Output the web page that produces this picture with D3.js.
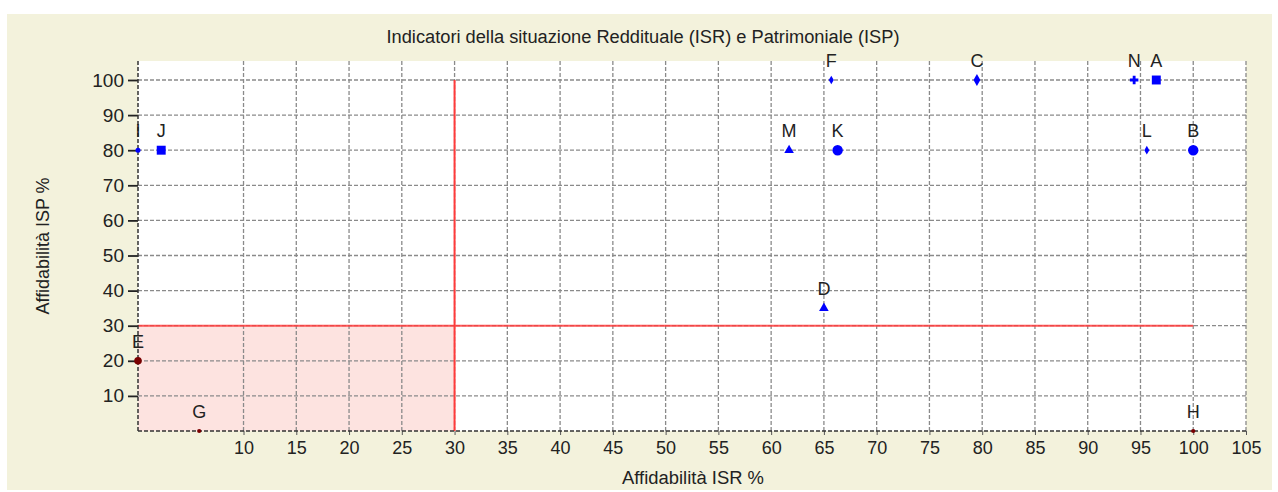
<!DOCTYPE html>
<html>
<head>
<meta charset="utf-8">
<script src="https://cdn.jsdelivr.net/npm/d3@7"></script>
<style>
  body { margin: 0; background: #fff; }
  svg text { font-family: "Liberation Sans", Arial, sans-serif; fill: #222; }
</style>
</head>
<body>
<div id="chart"></div>
<script>
// points
var names  = ["A", "B", "C", "D", "E", "F", "G", "H", "I", "J", "K", "L", "M", "N"];
var isr    = [96.5, 100, 79.5, 65, 0, 65.7, 5.8, 100, 0, 2.2, 66.3, 95.6, 61.7, 94.4];
var isp    = [100, 80, 100, 35, 20, 100, 0, 0, 80, 80, 80, 80, 80, 100];
var shapes = ["square", "circle", "diamond", "triangle", "circle", "diamond", "circle",
              "circle", "circle", "square", "circle", "diamond", "triangle", "cross"];
var tints  = ["blue", "blue", "blue", "blue", "dark", "blue", "dark",
              "dark", "blue", "blue", "blue", "blue", "blue", "blue"];

var xTicks = [10, 15, 20, 25, 30, 35, 40, 45, 50, 55, 60, 65, 70, 75, 80, 85, 90, 95, 100, 105];
var yTicks = [10, 20, 30, 40, 50, 60, 70, 80, 90, 100];
var threshold = 30;   // soglia ISR / ISP
var lineEnd = 100;

var W = 1278, H = 492;
var plotLeft = 138, plotRight = 1246, plotTop = 61, plotBottom = 431;

var svg = d3.select("#chart").append("svg")
    .attr("width", W)
    .attr("height", H);

// beige chart area
svg.append("rect")
    .attr("x", 7).attr("y", 14)
    .attr("width", 1265).attr("height", 476)
    .attr("fill", "#f3f2dc");

let x = d3.scaleLinear().domain([0, 105]).range([plotLeft, plotRight]);
let y = d3.scaleLinear().domain([0, 100]).range([plotBottom, 80]);

svg.append("rect")
    .attr("x", plotLeft).attr("y", plotTop)
    .attr("width", plotRight - plotLeft).attr("height", plotBottom - plotTop)
    .attr("fill", "#fff");

// pink zone
svg.append("rect")
    .attr("x", x(0)).attr("y", y(threshold))
    .attr("width", x(threshold) - x(0))
    .attr("height", y(0) - y(threshold))
    .attr("fill", "#fde3e0");

// grid
var grid = svg.append("g")
    .attr("stroke", "#8a8a8a")
    .attr("stroke-width", 1.3)
    .attr("stroke-dasharray", "4,2");
grid.selectAll(".vg")
    .data(xTicks)
    .join("line")
    .attr("class", "vg")
    .attr("x1", d => x(d)).attr("x2", d => x(d))
    .attr("y1", plotTop).attr("y2", plotBottom);
grid.selectAll(".hg")
    .data(yTicks)
    .join("line")
    .attr("class", "hg")
    .attr("x1", plotLeft).attr("x2", plotRight)
    .attr("y1", d => y(d)).attr("y2", d => y(d));

// red threshold lines
svg.append("line")
    .attr("x1", x(threshold)).attr("x2", x(threshold))
    .attr("y1", y(0)).attr("y2", y(lineEnd))
    .attr("stroke", "#ff3b3b").attr("stroke-width", 2);
svg.append("line")
    .attr("x1", x(0)).attr("x2", x(lineEnd))
    .attr("y1", y(threshold)).attr("y2", y(threshold))
    .attr("stroke", "#ff3b3b").attr("stroke-width", 2).attr("stroke-opacity", 0.85);

// axes
var yAxis = svg.append("g")
    .attr("transform", "translate(" + plotLeft + ",0)")
    .call(d3.axisLeft(y).tickValues(yTicks).tickSize(10).tickPadding(4));
var xAxis = svg.append("g")
    .attr("transform", "translate(0," + plotBottom + ")")
    .call(d3.axisBottom(x).tickValues(xTicks).tickSize(4).tickPadding(6));

yAxis.select(".domain").remove();
xAxis.select(".domain").remove();
yAxis.selectAll(".tick line").attr("stroke", "#222").attr("stroke-width", 1.8);
xAxis.selectAll(".tick line").attr("stroke", "#555").attr("stroke-width", 1);
yAxis.selectAll(".tick text").attr("font-size", 19).attr("fill", "#222");
xAxis.selectAll(".tick text").attr("font-size", 18).attr("fill", "#222");

svg.append("line")
    .attr("x1", plotLeft).attr("x2", plotLeft)
    .attr("y1", plotTop).attr("y2", plotBottom)
    .attr("stroke", "#333").attr("stroke-width", 1.5).attr("stroke-dasharray", "4,2");
svg.append("line")
    .attr("x1", plotLeft).attr("x2", plotRight)
    .attr("y1", plotBottom).attr("y2", plotBottom)
    .attr("stroke", "#333").attr("stroke-width", 1.5).attr("stroke-dasharray", "4,2");

// titles
svg.append("text")
    .attr("x", 643).attr("y", 43)
    .attr("text-anchor", "middle")
    .attr("font-size", 18)
    .attr("textLength", 513).attr("lengthAdjust", "spacingAndGlyphs")
    .text("Indicatori della situazione Reddituale (ISR) e Patrimoniale (ISP)");
svg.append("text")
    .attr("x", 693).attr("y", 484)
    .attr("text-anchor", "middle")
    .attr("font-size", 18)
    .attr("textLength", 142).attr("lengthAdjust", "spacingAndGlyphs")
    .text("Affidabilità ISR %");
svg.append("text")
    .attr("transform", "translate(49,246) rotate(-90)")
    .attr("text-anchor", "middle")
    .attr("font-size", 18)
    .attr("textLength", 137).attr("lengthAdjust", "spacingAndGlyphs")
    .text("Affidabilità ISP %");

// points
var symbolType = {
    square: d3.symbolSquare, circle: d3.symbolCircle, diamond: d3.symbolDiamond,
    triangle: d3.symbolTriangle, cross: d3.symbolCross
};
var sizes = [80, 85, 40, 40, 45, 22, 14, 14, 20, 80, 85, 22, 40, 40];
var colors = { blue: "#0000ff", dark: "#7a0000" };

var pts = names.map((n, i) => ({ name: n, x: isr[i], y: isp[i], shape: shapes[i], c: tints[i], s: sizes[i] }));

svg.append("g").selectAll("path")
    .data(pts)
    .join("path")
    .attr("transform", d => "translate(" + x(d.x) + "," + y(d.y) + ")")
    .attr("d", d => d3.symbol().type(symbolType[d.shape]).size(d.s)())
    .attr("fill", d => colors[d.c]);

// label "I" sits under the axis in the original, so it is drawn faint
svg.append("g").selectAll("text")
    .data(pts)
    .join("text")
    .attr("x", d => x(d.x))
    .attr("y", d => y(d.y) - 13)
    .attr("text-anchor", "middle")
    .attr("font-size", 18)
    .attr("fill", d => d.x === 0 && d.c === "blue" ? "#a8c8f0" : "#222")
    .text(d => d.name);
</script>
</body>
</html>
